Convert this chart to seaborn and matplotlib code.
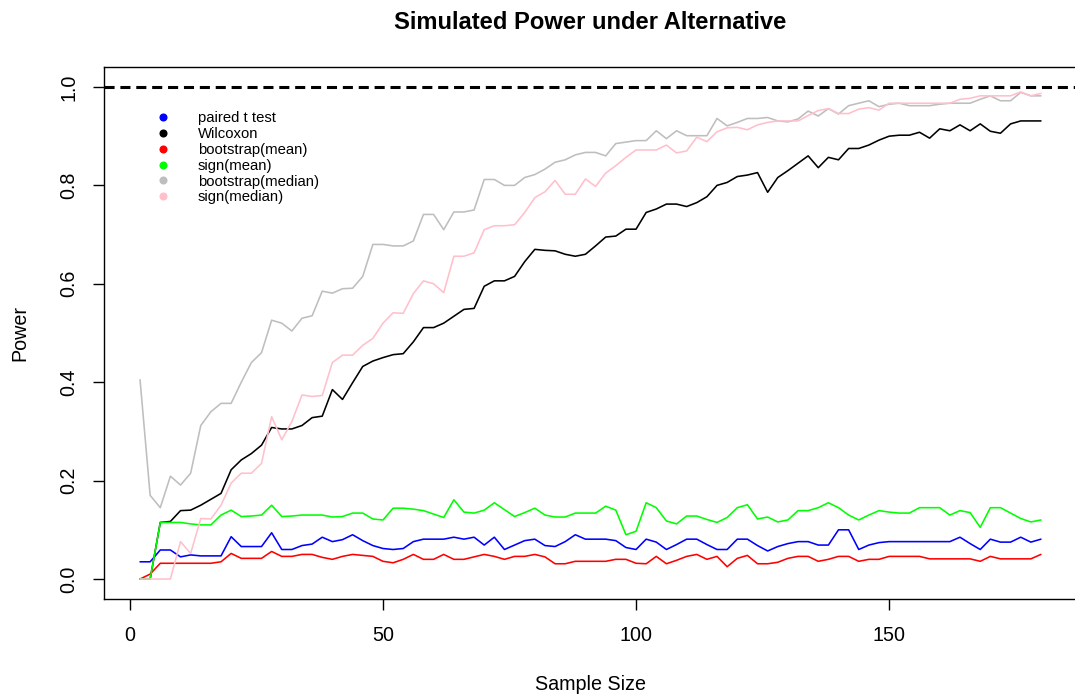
import matplotlib
matplotlib.use("Agg")
import matplotlib.pyplot as plt
from matplotlib.lines import Line2D
import pandas as pd
import seaborn as sns

# ---------------- data ----------------
sample_size = list(range(2, 181, 2))

paired_t = [
    .035, .035, .059, .059, .045, .049, .047, .047, .047, .086,
    .066, .066, .066, .094, .060, .060, .068, .071, .085, .076,
    .080, .090, .078, .068, .062, .060, .062, .076, .081, .081,
    .081, .085, .081, .085, .069, .085, .060, .069, .078, .081,
    .068, .066, .076, .090, .081, .081, .081, .078, .064, .060,
    .081, .075, .060, .070, .081, .081, .070, .060, .060, .081,
    .081, .068, .057, .066, .072, .076, .076, .069, .069, .100,
    .100, .060, .069, .074, .076, .076, .076, .076, .076, .076,
    .076, .085, .072, .060, .081, .075, .075, .085, .075, .081,
]

wilcoxon = [
    .000, .000, .115, .117, .139, .140, .150, .162, .174, .222,
    .242, .255, .272, .308, .305, .305, .312, .328, .331, .385,
    .365, .399, .432, .443, .450, .456, .458, .482, .511, .511,
    .520, .534, .548, .550, .595, .606, .606, .615, .645, .670,
    .668, .667, .660, .656, .660, .677, .695, .697, .711, .711,
    .745, .752, .762, .762, .757, .765, .777, .800, .806, .818,
    .821, .826, .786, .816, .830, .845, .860, .836, .857, .852,
    .875, .875, .882, .892, .900, .902, .902, .908, .896, .915,
    .911, .923, .911, .925, .910, .906, .925, .931, .931, .931,
]

boot_mean = [
    .000, .010, .032, .032, .032, .032, .032, .032, .035, .052,
    .042, .042, .042, .056, .046, .046, .050, .050, .044, .040,
    .046, .050, .048, .046, .036, .033, .040, .050, .040, .040,
    .050, .040, .040, .045, .050, .046, .040, .046, .046, .050,
    .045, .031, .031, .036, .036, .036, .036, .040, .040, .032,
    .031, .046, .031, .038, .046, .050, .040, .046, .025, .042,
    .048, .031, .031, .034, .042, .046, .046, .036, .040, .046,
    .046, .036, .040, .040, .046, .046, .046, .046, .041, .041,
    .041, .041, .041, .036, .046, .041, .041, .041, .041, .050,
]

sign_mean = [
    .000, .000, .115, .115, .115, .112, .110, .110, .130, .140,
    .127, .128, .130, .150, .127, .128, .130, .130, .130, .126,
    .127, .134, .134, .122, .120, .144, .144, .142, .139, .132,
    .125, .161, .136, .134, .140, .155, .141, .127, .135, .144,
    .130, .126, .126, .134, .134, .134, .148, .140, .090, .097,
    .155, .145, .118, .112, .128, .128, .121, .115, .125, .145,
    .151, .122, .126, .116, .120, .139, .139, .145, .155, .145,
    .130, .120, .130, .139, .136, .134, .134, .145, .145, .145,
    .130, .139, .135, .105, .145, .145, .134, .123, .116, .120,
]

boot_median = [
    .405, .170, .145, .209, .191, .215, .312, .340, .357, .357,
    .400, .440, .460, .526, .520, .504, .530, .535, .585, .581,
    .590, .591, .615, .680, .680, .677, .677, .687, .741, .741,
    .710, .746, .746, .750, .812, .812, .800, .800, .816, .822,
    .833, .847, .852, .862, .867, .867, .860, .885, .888, .891,
    .891, .911, .895, .911, .901, .901, .901, .936, .921, .928,
    .936, .936, .938, .931, .929, .935, .951, .941, .956, .945,
    .962, .967, .972, .960, .965, .967, .962, .962, .962, .965,
    .967, .967, .967, .975, .982, .972, .972, .989, .982, .982,
]

sign_median = [
    .000, .000, .000, .000, .076, .052, .123, .122, .150, .195,
    .215, .215, .235, .330, .283, .320, .374, .371, .373, .440,
    .455, .455, .475, .489, .520, .541, .540, .580, .606, .600,
    .582, .656, .656, .663, .710, .718, .718, .720, .745, .775,
    .787, .810, .782, .782, .813, .798, .825, .840, .857, .872,
    .872, .872, .882, .866, .870, .898, .889, .909, .917, .918,
    .913, .923, .928, .931, .931, .931, .942, .952, .956, .946,
    .946, .955, .958, .953, .967, .967, .967, .967, .967, .967,
    .967, .975, .977, .982, .982, .982, .982, .990, .982, .987,
]

methods = ["paired t test", "Wilcoxon", "bootstrap(mean)", "sign(mean)",
           "bootstrap(median)", "sign(median)"]
colors = ["#0000FF", "#000000", "#FF0000", "#00FF00", "#BEBEBE", "#FFC0CB"]
x_ticks = [0, 50, 100, 150]
y_ticks = [0.0, 0.2, 0.4, 0.6, 0.8, 1.0]

# ---------------- build long table ----------------
series = [paired_t, wilcoxon, boot_mean, sign_mean, boot_median, sign_median]
frames = []
for name, vals in zip(methods, series):
    frames.append(pd.DataFrame({"n": sample_size, "power": vals, "method": name}))
df = pd.concat(frames, ignore_index=True)

# ---------------- style ----------------
sns.set_theme(style="white")
plt.rcParams["font.family"] = ["Liberation Sans", "DejaVu Sans"]
plt.rcParams["axes.edgecolor"] = "black"
plt.rcParams["axes.linewidth"] = 1.0
plt.rcParams["text.color"] = "black"
plt.rcParams["axes.labelcolor"] = "black"
plt.rcParams["axes.titlecolor"] = "black"

W, H = 1075, 696
fig = plt.figure(figsize=(W / 100, H / 100), dpi=100)
ax_left, ax_right, ax_top, ax_bottom = 104, 1077, 67.3, 598.7
ax = fig.add_axes([ax_left / W, (H - ax_bottom) / H,
                   (ax_right - ax_left) / W, (ax_bottom - ax_top) / H])

sns.lineplot(data=df, x="n", y="power", hue="method", hue_order=methods,
             palette=dict(zip(methods, colors)), estimator=None, sort=False,
             linewidth=1.15, legend=False, ax=ax)

ax.axhline(1.0, color="black", lw=2.2, dashes=(3.3, 1.9))

ax.set_xlim(-5.12, 187.12)
ax.set_ylim(-0.04, 1.04)
ax.set_xticks(x_ticks)
ax.set_xticklabels([str(t) for t in x_ticks])
ax.set_yticks(y_ticks)
ax.set_yticklabels([f"{t:.1f}" for t in y_ticks])

for s in ax.spines.values():
    s.set_visible(True)
    s.set_color("black")
    s.set_linewidth(1.0)

ax.tick_params(axis="both", which="major", direction="out", length=7.7,
               width=1.0, color="black", labelsize=14.25, labelcolor="black",
               bottom=True, left=True)
ax.tick_params(axis="x", pad=12)
ax.tick_params(axis="y", pad=10.5)
for lab in ax.get_yticklabels():
    lab.set_rotation(90)
    lab.set_va("center")

ax.set_title("Simulated Power under Alternative", fontsize=17.1,
             fontweight="bold", y=1.085, va="center", pad=0, color="black")
ax.set_xlabel("Sample Size", fontsize=14.25, color="black")
ax.set_ylabel("Power", fontsize=14.25, color="black")
ax.xaxis.set_label_coords(0.5, -(685 - ax_bottom) / (ax_bottom - ax_top))
ax.xaxis.label.set_va("center")
ax.yaxis.set_label_coords((20 - ax_left) / (ax_right - ax_left), 0.5)
ax.yaxis.label.set_va("center")

handles = [Line2D([], [], marker="o", ls="", color=c, markersize=4.8)
           for c in colors]
leg = ax.legend(handles, methods, loc="upper left",
                bbox_to_anchor=(155.5 / W, 1 - 111.2 / H),
                bbox_transform=fig.transFigure, frameon=False, fontsize=10.7,
                handlelength=1.0, handletextpad=1.85, labelspacing=0.125,
                borderpad=0, borderaxespad=0)
for t in leg.get_texts():
    t.set_color("black")

fig.savefig("out.png", dpi=100)
